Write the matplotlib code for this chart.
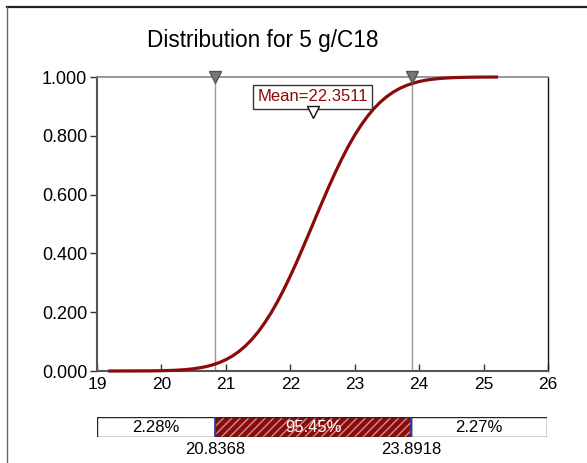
import matplotlib
matplotlib.use('Agg')
import matplotlib.pyplot as plt
from matplotlib.lines import Line2D

plt.rcParams['font.family'] = ['Liberation Sans', 'DejaVu Sans']

# Werte (kumulative Verteilung)
x_vals = [19.2, 19.6, 19.8, 20.0, 20.1, 20.2, 20.3, 20.4, 20.5, 20.6, 20.7, 20.8,
          20.9, 21.0, 21.1, 21.2, 21.3, 21.4, 21.5, 21.6, 21.7, 21.8, 21.9,
          22.0, 22.1, 22.2, 22.3, 22.4, 22.5, 22.6, 22.7, 22.8, 22.9, 23.0,
          23.1, 23.2, 23.3, 23.4, 23.5, 23.6, 23.7, 23.8, 23.9, 24.0, 24.1,
          24.2, 24.3, 24.4, 24.55, 24.7, 24.9, 25.2]
cum_prob = [0.0000, 0.0002, 0.0004, 0.0010, 0.0016, 0.0024, 0.0036, 0.0053, 0.0077,
            0.0110, 0.0153, 0.0212, 0.0288, 0.0385, 0.0508, 0.066, 0.0844, 0.1066,
            0.1326, 0.163, 0.197, 0.2354, 0.2775, 0.323, 0.371, 0.4216, 0.473,
            0.5255, 0.577, 0.6278, 0.676, 0.7217, 0.764, 0.8023, 0.8365, 0.8668,
            0.8929, 0.9151, 0.9337, 0.949, 0.9613, 0.971, 0.9787, 0.9845, 0.989,
            0.9922, 0.9946, 0.9963, 0.998, 0.9989, 0.9996, 0.9999]

mean_val = 22.3511
lower = 20.8368
upper = 23.8918
pct_left = '2.28%'
pct_mid = '95.45%'
pct_right = '2.27%'

x_ticks = [19, 20, 21, 22, 23, 24, 25, 26]
y_ticks = [0.0, 0.2, 0.4, 0.6, 0.8, 1.0]
y_labels = ['0.000', '0.200', '0.400', '0.600', '0.800', '1.000']

red = '#8b0a0a'

fig = plt.figure(figsize=(5.87, 4.63), dpi=100)

# Rahmen
fig.add_artist(Line2D([7/587, 1], [1 - 7/463, 1 - 7/463], transform=fig.transFigure,
                      color='#222222', lw=1.6))
fig.add_artist(Line2D([7/587, 7/587], [0, 1 - 7/463], transform=fig.transFigure,
                      color='#666666', lw=1.0))

fig.text(263/587, 1 - 40/463, 'Distribution for 5 g/C18', ha='center', va='center',
         fontsize=16.3)

ax = fig.add_axes([97/587, 1 - 371/463, 451/587, 294/463])
ax.plot(x_vals, cum_prob, color=red, lw=2.3, zorder=3, clip_on=False)
ax.set_xlim(19, 26)
ax.set_ylim(0, 1)
ax.set_xticks(x_ticks)
ax.set_xticklabels([str(t) for t in x_ticks], fontsize=12.5)
ax.set_yticks(y_ticks)
ax.set_yticklabels(y_labels, fontsize=13)
ax.tick_params(axis='x', direction='in', length=5, width=1, pad=4, color='#333333')
ax.tick_params(axis='y', direction='out', length=5, width=1, pad=2, color='#333333')
ax.spines['left'].set_color('#555555')
ax.spines['left'].set_linewidth(1.5)
ax.spines['bottom'].set_color('#555555')
ax.spines['bottom'].set_linewidth(1.5)
ax.spines['top'].set_color('#888888')
ax.spines['top'].set_linewidth(1.2)
ax.spines['right'].set_color('#111111')
ax.spines['right'].set_linewidth(1.0)

# Grenzlinien mit Dreiecken
for v in [lower, upper]:
    ax.axvline(v, color='#999999', lw=1.0, zorder=1)
    ax.plot([v], [1.0], marker='v', markersize=8, color='#777777',
            markeredgecolor='#555555', clip_on=False, zorder=4)

# Mittelwert
ax.plot([mean_val], [0.882], marker='v', markersize=9, markerfacecolor='white',
        markeredgecolor='#111111', markeredgewidth=1.0, zorder=6)
ax.text(mean_val, 0.932, 'Mean=' + str(mean_val), color=red, fontsize=12,
        ha='center', va='center', zorder=5,
        bbox=dict(boxstyle='square,pad=0.25', fc='white', ec='#333333', lw=1.0))

# Balken unten
bx = fig.add_axes([97/587, 1 - 437/463, 450/587, 20/463])
bx.set_xlim(19, 26)
bx.set_ylim(0, 1)
bx.axis('off')
bx.barh(0.5, lower - 19, left=19, height=1, color='white', edgecolor='#222222', lw=1.0)
bx.barh(0.5, 26 - upper, left=upper, height=1, color='white', edgecolor='#222222', lw=1.0)
bx.barh(0.5, upper - lower, left=lower, height=1, color=red, edgecolor='#c89090',
        hatch='////', lw=0)
bx.barh(0.5, upper - lower, left=lower, height=1, color='none', edgecolor='#222222', lw=1.0)
bx.axvline(lower, color='#3040b0', lw=1.2)
bx.axvline(upper, color='#3040b0', lw=1.2)

bx.text((19 + lower) / 2, 0.5, pct_left, ha='center', va='center', fontsize=12)
bx.text((lower + upper) / 2, 0.5, pct_mid, ha='center', va='center', fontsize=12,
        color='white')
bx.text((upper + 26) / 2, 0.5, pct_right, ha='center', va='center', fontsize=12)

for v in [lower, upper]:
    bx.text(v, -0.6, str(v), ha='center', va='center', fontsize=12, clip_on=False,
            bbox=dict(boxstyle='square,pad=0.15', fc='white', ec='none'))

fig.savefig('out.png', dpi=100)
